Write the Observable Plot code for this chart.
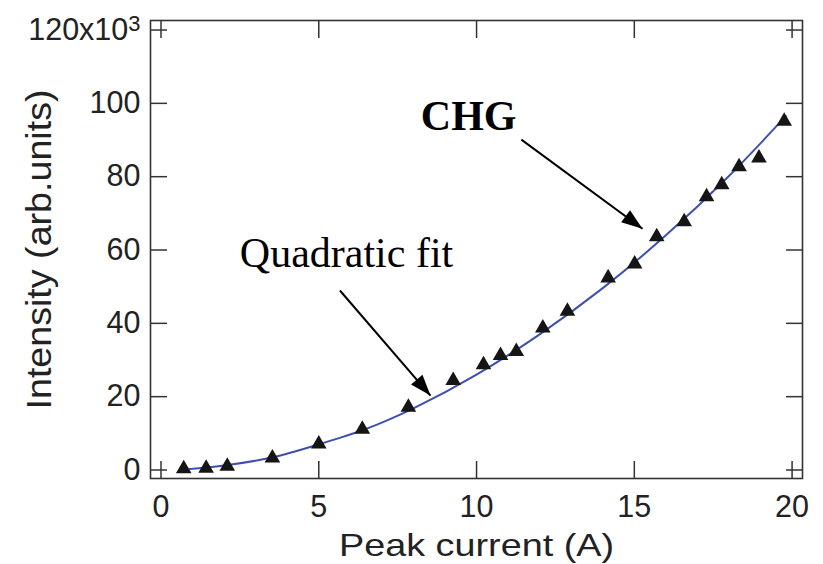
<!DOCTYPE html>
<html><head><meta charset="utf-8">
<script src="https://cdn.jsdelivr.net/npm/d3@7"></script>
<script src="https://cdn.jsdelivr.net/npm/@observablehq/plot@0.6"></script>
<style>
body{margin:0;background:#fff;}
#chart svg{display:block;}
g[aria-label="x-axis label"] text{font-size:32px;}
g[aria-label="y-axis label"] text{font-size:35px;}
</style></head><body><div id="chart"></div>
<script>
// CHG measured points (peak current in A, intensity in 10^3 arb. units)
const currentA   = [0.72, 1.43, 2.10, 3.53, 5.00, 6.38, 7.84, 9.26, 10.22, 10.76, 11.26, 12.10, 12.88, 14.17, 15.01, 15.71, 16.58, 17.29, 17.77, 18.32, 18.95, 19.75];
const intensityK = [0.35, 0.5, 1.0, 3.25, 7.1, 11.1, 17.1, 24.4, 28.7, 31.2, 32.3, 38.7, 43.3, 52.4, 56.2, 63.6, 67.7, 74.5, 77.8, 82.7, 85.1, 95.1];
// Quadratic fit curve
const fitCurrentA   = [0.7, 2, 3.5, 5, 6.5, 8, 10, 12, 14, 16, 18, 19.8];
const fitIntensityK = [0.1, 1.2, 3.4, 7.0, 11.2, 16.8, 26.0, 37.0, 49.6, 64.0, 80.2, 96.5];
// ticks
const xTicks = [0, 5, 10, 15, 20];
const yTicks = [0, 20, 40, 60, 80, 100, 120];
const yTickLabels = ["0", "20", "40", "60", "80", "100", "120x10³"];
// annotations
const annotationText = ["CHG", "Quadratic fit"];
const annotationX = [9.75, 5.88];
const annotationY = [92.6, 55.5];
const arrowX1 = [11.42, 5.67];
const arrowY1 = [90.1, 48.95];
const arrowX2 = [15.26, 8.54];
const arrowY2 = [65.8, 20.3];

const points = currentA.map((x, i) => ({x, y: intensityK[i]}));
const fit = fitCurrentA.map((x, i) => ({x, y: fitIntensityK[i]}));
const arrows = arrowX1.map((x1, i) => ({x1, y1: arrowY1[i], x2: arrowX2[i], y2: arrowY2[i]}));
const notes = annotationText.map((t, i) => ({t, x: annotationX[i], y: annotationY[i]}));

const tickStyle = {fill: "none", stroke: "#333", strokeWidth: 1.5, tickSize: -17};
const chart = Plot.plot({
  width: 823, height: 564,
  marginLeft: 150, marginRight: 21, marginTop: 20, marginBottom: 86,
  style: {fontFamily: "'Liberation Sans', Arial, sans-serif", color: "#222", background: "#fff"},
  x: {domain: [-0.333, 20.33]},
  y: {domain: [-2.32, 122.6]},
  marks: [
    Plot.frame({stroke: "#333", strokeWidth: 1.6}),
    Plot.axisX(xTicks, {anchor: "bottom", tickSize: 0, tickPadding: 17, fontSize: 30.5, fill: "#222",
      label: "Peak current (A)", labelAnchor: "center", labelArrow: "none", labelOffset: 77}),
    Plot.axisX(xTicks, {anchor: "bottom", ...tickStyle}),
    Plot.axisX(xTicks, {anchor: "top", ...tickStyle}),
    Plot.axisY(yTicks, {anchor: "left", tickSize: 0, tickPadding: 10, fontSize: 30.5, fill: "#222",
      tickFormat: d => yTickLabels[yTicks.indexOf(d)],
      label: "Intensity (arb.units)", labelAnchor: "center", labelArrow: "none", labelOffset: 124}),
    Plot.axisY(yTicks, {anchor: "left", ...tickStyle}),
    Plot.axisY(yTicks, {anchor: "right", ...tickStyle}),
    Plot.line(fit, {x: d => d.x, y: d => d.y, curve: "catmull-rom", stroke: "#3d50b0", strokeWidth: 2}),
    Plot.dot(points, {x: d => d.x, y: d => d.y, symbol: "triangle", r: 5.8, fill: "#151515", stroke: "none"}),
    Plot.link(arrows, {x1: d => d.x1, y1: d => d.y1, x2: d => d.x2, y2: d => d.y2,
      stroke: "#000", strokeWidth: 2, markerEnd: "arrow"}),
    Plot.text(notes.slice(0, 1), {x: d => d.x, y: d => d.y, text: d => d.t, fontFamily: "'Liberation Serif', 'Times New Roman', serif",
      fontSize: 42, fontWeight: "bold", fill: "#000", textAnchor: "middle", lineAnchor: "bottom"}),
    Plot.text(notes.slice(1), {x: d => d.x, y: d => d.y, text: d => d.t, fontFamily: "'Liberation Serif', 'Times New Roman', serif",
      fontSize: 42, fill: "#000", textAnchor: "middle", lineAnchor: "bottom"})
  ]
});
document.getElementById("chart").appendChild(chart);

// styling touch-ups
const xl = chart.querySelector('g[aria-label="x-axis label"] text');
if (xl) { xl.setAttribute("textLength", 275); xl.setAttribute("lengthAdjust", "spacingAndGlyphs"); }
const yl = chart.querySelector('g[aria-label="y-axis label"] text');
if (yl) { yl.setAttribute("textLength", 320); yl.setAttribute("lengthAdjust", "spacingAndGlyphs"); }
chart.querySelectorAll('g[aria-label="y-axis tick label"] text').forEach(t => {
  if (t.textContent.endsWith("³")) {
    t.textContent = t.textContent.slice(0, -1);
    const s = document.createElementNS("http://www.w3.org/2000/svg", "tspan");
    s.setAttribute("dy", "-0.4em"); s.setAttribute("font-size", "0.72em"); s.textContent = "3";
    t.appendChild(s);
  }
});
chart.querySelectorAll("marker").forEach(m => {
  m.setAttribute("viewBox", "-22 -9 23 18");
  m.setAttribute("markerWidth", 23); m.setAttribute("markerHeight", 18);
  m.setAttribute("markerUnits", "userSpaceOnUse");
  m.setAttribute("fill", "#000"); m.setAttribute("stroke", "none");
  const p = m.querySelector("path");
  if (p) p.setAttribute("d", "M-21,-7.5L0,0L-21,7.5Z");
});
</script></body></html>
